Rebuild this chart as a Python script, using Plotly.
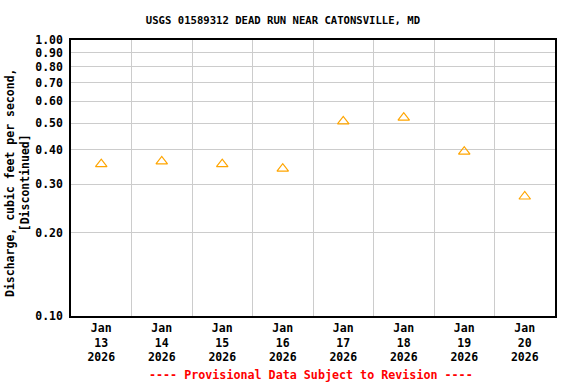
import plotly.graph_objects as go

dates = ["2026-01-13", "2026-01-14", "2026-01-15", "2026-01-16",
         "2026-01-17", "2026-01-18", "2026-01-19", "2026-01-20"]
discharge = [0.355, 0.363, 0.355, 0.342, 0.507, 0.523, 0.394, 0.271]
tick_labels = ["Jan<br>13<br>2026", "Jan<br>14<br>2026", "Jan<br>15<br>2026", "Jan<br>16<br>2026",
               "Jan<br>17<br>2026", "Jan<br>18<br>2026", "Jan<br>19<br>2026", "Jan<br>20<br>2026"]
y_ticks = [0.10, 0.20, 0.30, 0.40, 0.50, 0.60, 0.70, 0.80, 0.90, 1.00]
y_tick_text = ["%.2f" % v for v in y_ticks]

x_noon = [d + " 12:00" for d in dates]
font_mono = "DejaVu Sans Mono"

fig = go.Figure()
fig.add_trace(go.Scatter(
    x=x_noon, y=discharge, mode="markers",
    marker=dict(symbol="triangle-up-open", size=10, color="#FFA500", line=dict(width=1.2, color="#FFA500")),
    showlegend=False, hoverinfo="x+y"))

fig.update_layout(
    width=576, height=384,
    margin=dict(l=71, r=21, t=40, b=68),
    paper_bgcolor="white", plot_bgcolor="white",
    font=dict(family=font_mono, size=11.5, color="black"),
    title=dict(text="<b>USGS 01589312 DEAD RUN NEAR CATONSVILLE, MD</b>",
               x=283 / 576, xref="container", xanchor="center", y=1 - 20 / 384, yanchor="middle",
               font=dict(family=font_mono, size=10.6, color="black")),
    xaxis=dict(
        type="date", range=["2026-01-13", "2026-01-21"],
        tickmode="array", tickvals=x_noon, ticktext=["<b>%s</b>" % t for t in tick_labels],
        showgrid=False, ticks="", showline=True, linecolor="black", linewidth=1.5, mirror=True,
        zeroline=False,
        minor=dict(tick0="2026-01-13", dtick=86400000, showgrid=True, gridcolor="#cccccc", gridwidth=1, ticks=""),
        tickfont=dict(family=font_mono, size=11.5, color="black"),
    ),
    yaxis=dict(
        type="log", range=[-1, 0],
        tickmode="array", tickvals=y_ticks, ticktext=["<b>%s</b>" % t for t in y_tick_text],
        showgrid=True, gridcolor="#cccccc", gridwidth=1, ticks="",
        showline=True, linecolor="black", linewidth=1.5, mirror=True, zeroline=False,
        ticklabelstandoff=4,
        tickfont=dict(family=font_mono, size=11.5, color="black"),
    ),
)

fig.add_annotation(
    text="<b>Discharge, cubic feet per second,<br>[Discontinued]</b>",
    xref="paper", yref="paper", x=(17 - 71) / 484, y=(316 - 183) / 276,
    xanchor="center", yanchor="middle", textangle=-90, showarrow=False,
    font=dict(family=font_mono, size=11.5, color="black"))

fig.add_annotation(
    text="<b>---- Provisional Data Subject to Revision ----</b>",
    xref="paper", yref="paper", x=(311 - 71) / 484, y=-(375 - 316) / 276,
    xanchor="center", yanchor="middle", showarrow=False,
    font=dict(family=font_mono, size=11.7, color="red"))

fig.write_html("out.html")
